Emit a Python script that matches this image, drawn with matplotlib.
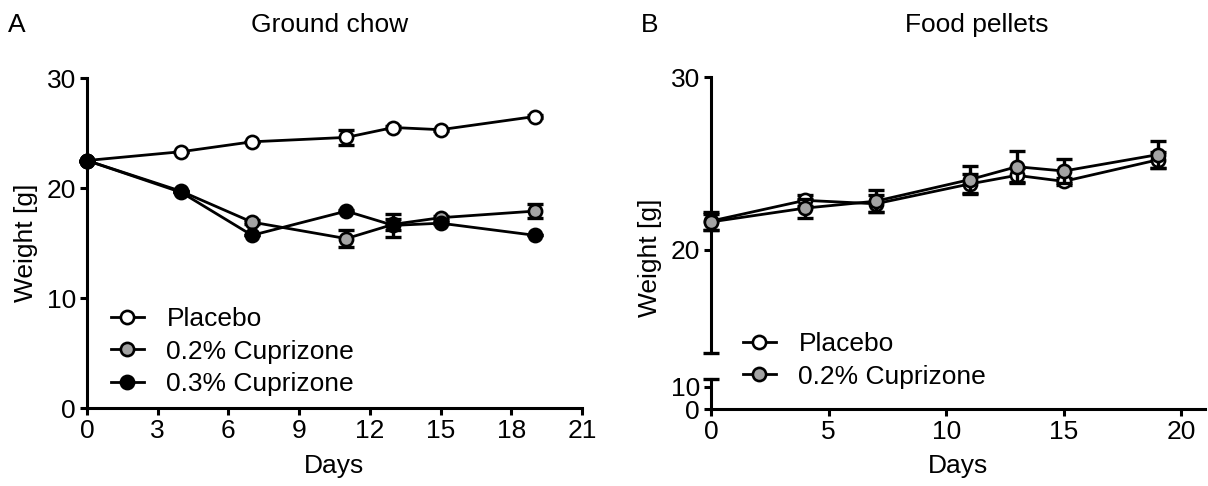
import numpy as np
import matplotlib
matplotlib.use('Agg')
import matplotlib.pyplot as plt

plt.rcParams['font.family'] = ['Liberation Sans', 'DejaVu Sans']

# measurement days
days = [0, 4, 7, 11, 13, 15, 19]

# panel A: ground chow
a_placebo = [22.5, 23.3, 24.2, 24.6, 25.5, 25.3, 26.5]
a_placebo_err = [0, 0, 0, 0.7, 0.1, 0.1, 0.1]
a_cup02 = [22.5, 19.7, 16.9, 15.4, 16.7, 17.3, 17.9]
a_cup02_err = [0, 0, 0.2, 0.8, 0.5, 0.2, 0.65]
a_cup03 = [22.5, 19.6, 15.7, 17.9, 16.6, 16.8, 15.7]
a_cup03_err = [0, 0, 0, 0.1, 1.05, 0.1, 0]

# panel B: food pellets
b_placebo = [21.65, 22.85, 22.65, 23.8, 24.3, 23.95, 25.2]
b_placebo_err = [0.5, 0.3, 0.5, 0.6, 0.4, 0.2, 0.45]
b_cup02 = [21.6, 22.4, 22.8, 24.05, 24.8, 24.55, 25.5]
b_cup02_err = [0.45, 0.55, 0.65, 0.78, 0.92, 0.72, 0.78]

labels_a = ['Placebo', '0.2% Cuprizone', '0.3% Cuprizone']
labels_b = ['Placebo', '0.2% Cuprizone']

FS = 19
LW = 2.0
GREY = '#a3a3a3'
W, H = 1208, 486


def style_axis(ax):
    for s in ['top', 'right']:
        ax.spines[s].set_visible(False)
    for s in ['left', 'bottom']:
        ax.spines[s].set_linewidth(2.2)
    ax.tick_params(direction='out', length=5, width=2.2, labelsize=FS, pad=3)


def series(ax, y, err, face, label, z):
    ax.errorbar(days, y, yerr=err, fmt='none', ecolor='black', elinewidth=2.4,
                capsize=5.5, capthick=2.4, zorder=z, clip_on=False)
    ax.plot(days, y, color='black', lw=LW, marker='o', ms=9.5, mfc=face,
            mec='black', mew=1.9, label=label, zorder=z + 0.5, clip_on=False)


def box(l, b, r, t):
    # pixel box -> figure fraction
    return [l / W, 1 - b / H, (r - l) / W, (b - t) / H]


def add_legend(ax, x, y):
    ax.legend(loc='upper left', bbox_to_anchor=(x / W, 1 - y / H),
              bbox_transform=fig.transFigure, frameon=False, fontsize=FS,
              handlelength=1.25, handletextpad=0.85, labelspacing=0.33,
              borderpad=0, borderaxespad=0)


fig = plt.figure(figsize=(W / 100, H / 100), dpi=100)

# ---- Panel A ----
ax = fig.add_axes(box(87, 408, 582, 78))
style_axis(ax)
series(ax, a_placebo, a_placebo_err, 'white', labels_a[0], 3)
series(ax, a_cup02, a_cup02_err, GREY, labels_a[1], 4)
series(ax, a_cup03, a_cup03_err, 'black', labels_a[2], 5)
ax.set_xlim(0, 21)
ax.set_ylim(0, 30)
ax.set_xticks(np.arange(0, 22, 3))
ax.set_yticks([0, 10, 20, 30])
add_legend(ax, 111, 307)

fig.text(26 / W, 1 - 243 / H, 'Weight [g]', rotation=90, ha='center', va='center', fontsize=FS)
fig.text(334 / W, 1 - 466 / H, 'Days', ha='center', va='center', fontsize=FS)
fig.text(17 / W, 1 - 25 / H, 'A', ha='center', va='center', fontsize=FS)
fig.text(330 / W, 1 - 25 / H, 'Ground chow', ha='center', va='center', fontsize=FS)

# ---- Panel B (broken y axis) ----
axl = fig.add_axes(box(711, 409, 1205, 379))
axu = fig.add_axes(box(711, 353, 1205, 77), sharex=axl)
axu.set_zorder(3)
axl.patch.set_visible(False)
axu.patch.set_visible(False)
style_axis(axu)
style_axis(axl)
axu.spines['bottom'].set_visible(False)
axu.tick_params(axis='x', bottom=False, labelbottom=False)

series(axu, b_placebo, b_placebo_err, 'white', labels_b[0], 3)
series(axu, b_cup02, b_cup02_err, GREY, labels_b[1], 4)
axu.set_ylim(14, 30)
axu.set_yticks([20, 30])
axl.set_ylim(0, 13.6)
axl.set_yticks([0, 10])
axl.set_xlim(0, 21)
axl.set_xticks([0, 5, 10, 15, 20])

# end caps of the broken axis
axu.plot([0], [0], marker='_', ms=12, mew=2.4, color='black',
         transform=axu.transAxes, clip_on=False)
axl.plot([0], [1], marker='_', ms=12, mew=2.4, color='black',
         transform=axl.transAxes, clip_on=False)

add_legend(axu, 743, 332)

fig.text(650 / W, 1 - 258 / H, 'Weight [g]', rotation=90, ha='center', va='center', fontsize=FS)
fig.text(958 / W, 1 - 466 / H, 'Days', ha='center', va='center', fontsize=FS)
fig.text(650 / W, 1 - 25 / H, 'B', ha='center', va='center', fontsize=FS)
fig.text(977 / W, 1 - 25 / H, 'Food pellets', ha='center', va='center', fontsize=FS)

fig.savefig('out.png', dpi=100)
